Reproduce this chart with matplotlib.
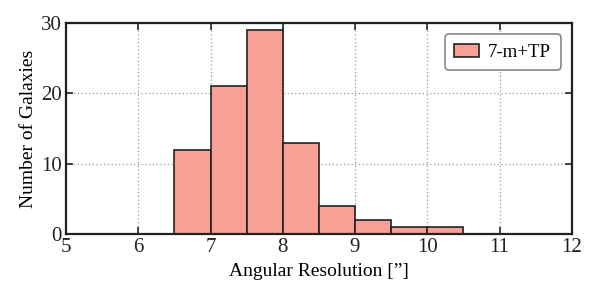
import matplotlib.pyplot as plt
import numpy as np

plt.rcParams['font.family'] = ['Liberation Serif', 'DejaVu Serif']
plt.rcParams['mathtext.fontset'] = 'stix'

# histogram bins (arcsec) and galaxy counts
bin_edges = [6.5, 7.0, 7.5, 8.0, 8.5, 9.0, 9.5, 10.0, 10.5]
counts = [12, 21, 29, 13, 4, 2, 1, 1]
label = "7-m+TP"

fig = plt.figure(figsize=(6, 3), dpi=100)
ax = fig.add_axes([0.11, 0.22, 0.843, 0.703])

ax.hist(bin_edges[:-1], bins=bin_edges, weights=counts,
        color='#F9A094', edgecolor='#222222', linewidth=1.2, label=label)

ax.set_xlim(5, 12)
ax.set_ylim(0, 30)
ax.set_xticks(np.arange(5, 13, 1))
ax.set_yticks([0, 10, 20, 30])
ax.set_axisbelow(True)
ax.grid(True, linestyle=(0, (1, 2)), color='#999999', linewidth=0.9)

ax.tick_params(direction='in', length=5, width=1.2, top=True, right=True,
               labelsize=15, colors='#222222', pad=3)
for s in ax.spines.values():
    s.set_linewidth(1.6)
    s.set_color('#222222')

ax.set_xlabel('Angular Resolution [\u201d]', fontsize=14, labelpad=4)
ax.set_ylabel('Number of Galaxies', fontsize=14, labelpad=3)

leg = ax.legend(loc='upper right', fontsize=13.5, fancybox=True, framealpha=1,
                edgecolor='#888888', handlelength=1.3, borderpad=0.5,
                handletextpad=0.5, borderaxespad=0.6)
leg.get_frame().set_linewidth(1.2)

fig.savefig('out.png', dpi=100)
